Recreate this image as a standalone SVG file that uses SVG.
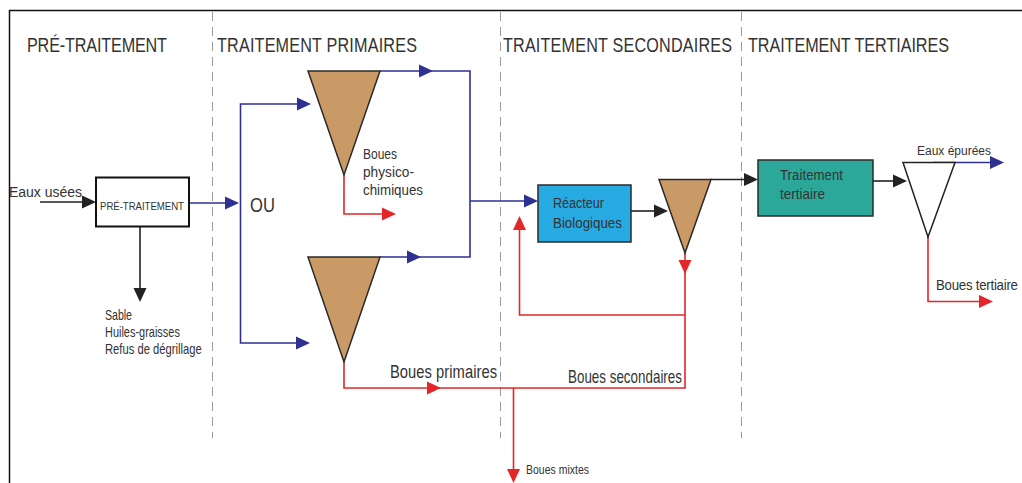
<svg xmlns="http://www.w3.org/2000/svg" xmlns:xlink="http://www.w3.org/1999/xlink" width="1022" height="483" viewBox="0 0 1022 483">
<defs>
<style>
.t{font-family:"Liberation Sans",Arial,sans-serif;fill:#333333}
.h{font-size:21px}
.b{stroke:#2E3192;stroke-width:1.6;fill:none}
.r{stroke:#E3262A;stroke-width:1.6;fill:none}
.k{stroke:#222222;stroke-width:1.6;fill:none}
.fb{fill:#2E3192}
.fr{fill:#E3262A}
.fk{fill:#222222}
.dash{stroke:#9A9A9A;stroke-width:1;stroke-dasharray:9,6;fill:none}
.tan{fill:#C99A66;stroke:#2A2A2A;stroke-width:1.5}
</style>
<path id="ah" d="M0,0 L-14,-6.5 L-14,6.5 Z"/>
</defs>
<rect x="0" y="0" width="1022" height="483" fill="#FFFFFF"/>
<g id="frame">
<path d="M9.5,483 V10.5 H1022" fill="none" stroke="#111111" stroke-width="1.5"/>
<path class="dash" d="M212.5,12 V438"/>
<path class="dash" d="M500.5,12 V438"/>
<path class="dash" d="M741.5,12 V438"/>
</g>
<g id="titles">
<text class="t h" transform="translate(27,52) scale(0.77,1)" textLength="181.8">PRÉ-TRAITEMENT</text>
<text class="t h" transform="translate(217,52) scale(0.77,1)" textLength="259.7">TRAITEMENT PRIMAIRES</text>
<text class="t h" transform="translate(503,52) scale(0.77,1)" textLength="297.4">TRAITEMENT SECONDAIRES</text>
<text class="t h" transform="translate(748,52) scale(0.77,1)" textLength="261">TRAITEMENT TERTIAIRES</text>
</g>
<g id="connectors">
<path class="k" d="M40,202 H84"/>
<use xlink:href="#ah" class="fk" transform="translate(96,202)"/>
<path class="k" d="M140,227 V290"/>
<use xlink:href="#ah" class="fk" transform="translate(140,302) rotate(90)"/>
<path class="b" d="M189,203 H227"/>
<use xlink:href="#ah" class="fb" transform="translate(239,203)"/>
<path class="b" d="M299,104 H240.5 V343 H298"/>
<use xlink:href="#ah" class="fb" transform="translate(311,104)"/>
<use xlink:href="#ah" class="fb" transform="translate(310,343)"/>
<path class="b" d="M380,71 H470 V257 H380"/>
<use xlink:href="#ah" class="fb" transform="translate(433,71)"/>
<use xlink:href="#ah" class="fb" transform="translate(421,257)"/>
<path class="b" d="M470,201 H526"/>
<use xlink:href="#ah" class="fb" transform="translate(538,201)"/>
<path class="r" d="M344,175 V214 H384"/>
<use xlink:href="#ah" class="fr" transform="translate(396,214)"/>
<path class="r" d="M344,362 V388 H685 V260"/>
<use xlink:href="#ah" class="fr" transform="translate(441,388)"/>
<path class="r" d="M685,252 V262"/>
<use xlink:href="#ah" class="fr" transform="translate(685,274) rotate(90)"/>
<path class="r" d="M685,315 H519.5 V228"/>
<use xlink:href="#ah" class="fr" transform="translate(519.5,216) rotate(-90)"/>
<path class="r" d="M513.5,388 V471"/>
<use xlink:href="#ah" class="fr" transform="translate(513.5,483) rotate(90)"/>
<path class="k" d="M631,211 H656"/>
<use xlink:href="#ah" class="fk" transform="translate(668,211)"/>
<path class="k" d="M710,179.5 H746"/>
<use xlink:href="#ah" class="fk" transform="translate(758,179.5)"/>
<path class="k" d="M873,181 H895"/>
<use xlink:href="#ah" class="fk" transform="translate(907,181)"/>
<path class="b" d="M933,162.5 H991"/>
<use xlink:href="#ah" class="fb" transform="translate(1004,162.5)"/>
<path class="r" d="M928,237 V301.5 H980"/>
<use xlink:href="#ah" class="fr" transform="translate(993,301.5)"/>
</g>
<g id="pretraitement">
<rect x="96" y="177.5" width="93" height="49" fill="#FFFFFF" stroke="#111111" stroke-width="2"/>
<text class="t" transform="translate(100,210) scale(0.83,1)" font-size="11.6" textLength="101.2">PRÉ-TRAITEMENT</text>
</g>
<g id="entree">
<text class="t" x="9" y="197" font-size="14" textLength="73">Eaux usées</text>
</g>
<g id="residus">
<text class="t" transform="translate(105,320) scale(0.76,1)" font-size="14" textLength="35.5">Sable</text>
<text class="t" transform="translate(105,337) scale(0.78,1)" font-size="14" textLength="96">Huiles-graisses</text>
<text class="t" transform="translate(105,354) scale(0.8,1)" font-size="14" textLength="121">Refus de dégrillage</text>
</g>
<g id="ou">
<text class="t" transform="translate(250,212) scale(0.79,1)" font-size="21" textLength="31.6">OU</text>
</g>
<g id="decanteur-physico">
<polygon class="tan" points="308,71 380,71 344,175"/>
<text class="t" transform="translate(363,159) scale(0.8,1)" font-size="15" textLength="42.5">Boues</text>
<text class="t" transform="translate(363,177) scale(0.91,1)" font-size="15" textLength="56">physico-</text>
<text class="t" transform="translate(363,195) scale(0.89,1)" font-size="15" textLength="67.4">chimiques</text>
</g>
<g id="decanteur-primaire">
<polygon class="tan" points="308,257 380,257 344,362"/>
<text class="t" transform="translate(390,378) scale(0.82,1)" font-size="18" textLength="130.5">Boues primaires</text>
</g>
<g id="reacteur">
<rect x="538" y="185" width="93" height="57" fill="#27A9E1" stroke="#2A2A2A" stroke-width="1.5"/>
<text class="t" transform="translate(553,208) scale(0.82,1)" font-size="15.4" textLength="62.2">Réacteur</text>
<text class="t" transform="translate(553,228) scale(0.87,1)" font-size="15.4" textLength="79.3">Biologiques</text>
</g>
<g id="clarificateur">
<polygon class="tan" points="659,179.5 711,179.5 685,253"/>
<text class="t" transform="translate(568,383) scale(0.757,1)" font-size="17.7" textLength="150.6">Boues secondaires</text>
</g>
<g id="boues-mixtes">
<text class="t" transform="translate(526,474) scale(0.84,1)" font-size="12.5" textLength="75">Boues mixtes</text>
</g>
<g id="tertiaire">
<rect x="758" y="160" width="115" height="56" fill="#2CA89B" stroke="#2A2A2A" stroke-width="1.5"/>
<text class="t" transform="translate(780,180) scale(0.88,1)" font-size="15" textLength="71.6">Traitement</text>
<text class="t" transform="translate(780,199) scale(0.9,1)" font-size="15" textLength="50">tertiaire</text>
</g>
<g id="decanteur-tertiaire">
<polygon points="903,162.5 955,162.5 928,237" fill="#FFFFFF" stroke="#222222" stroke-width="1.5"/>
<text class="t" x="917" y="155" font-size="12" textLength="74">Eaux épurées</text>
<text class="t" transform="translate(936,290) scale(0.86,1)" font-size="15.4" textLength="95.3">Boues tertiaire</text>
</g>
</svg>
